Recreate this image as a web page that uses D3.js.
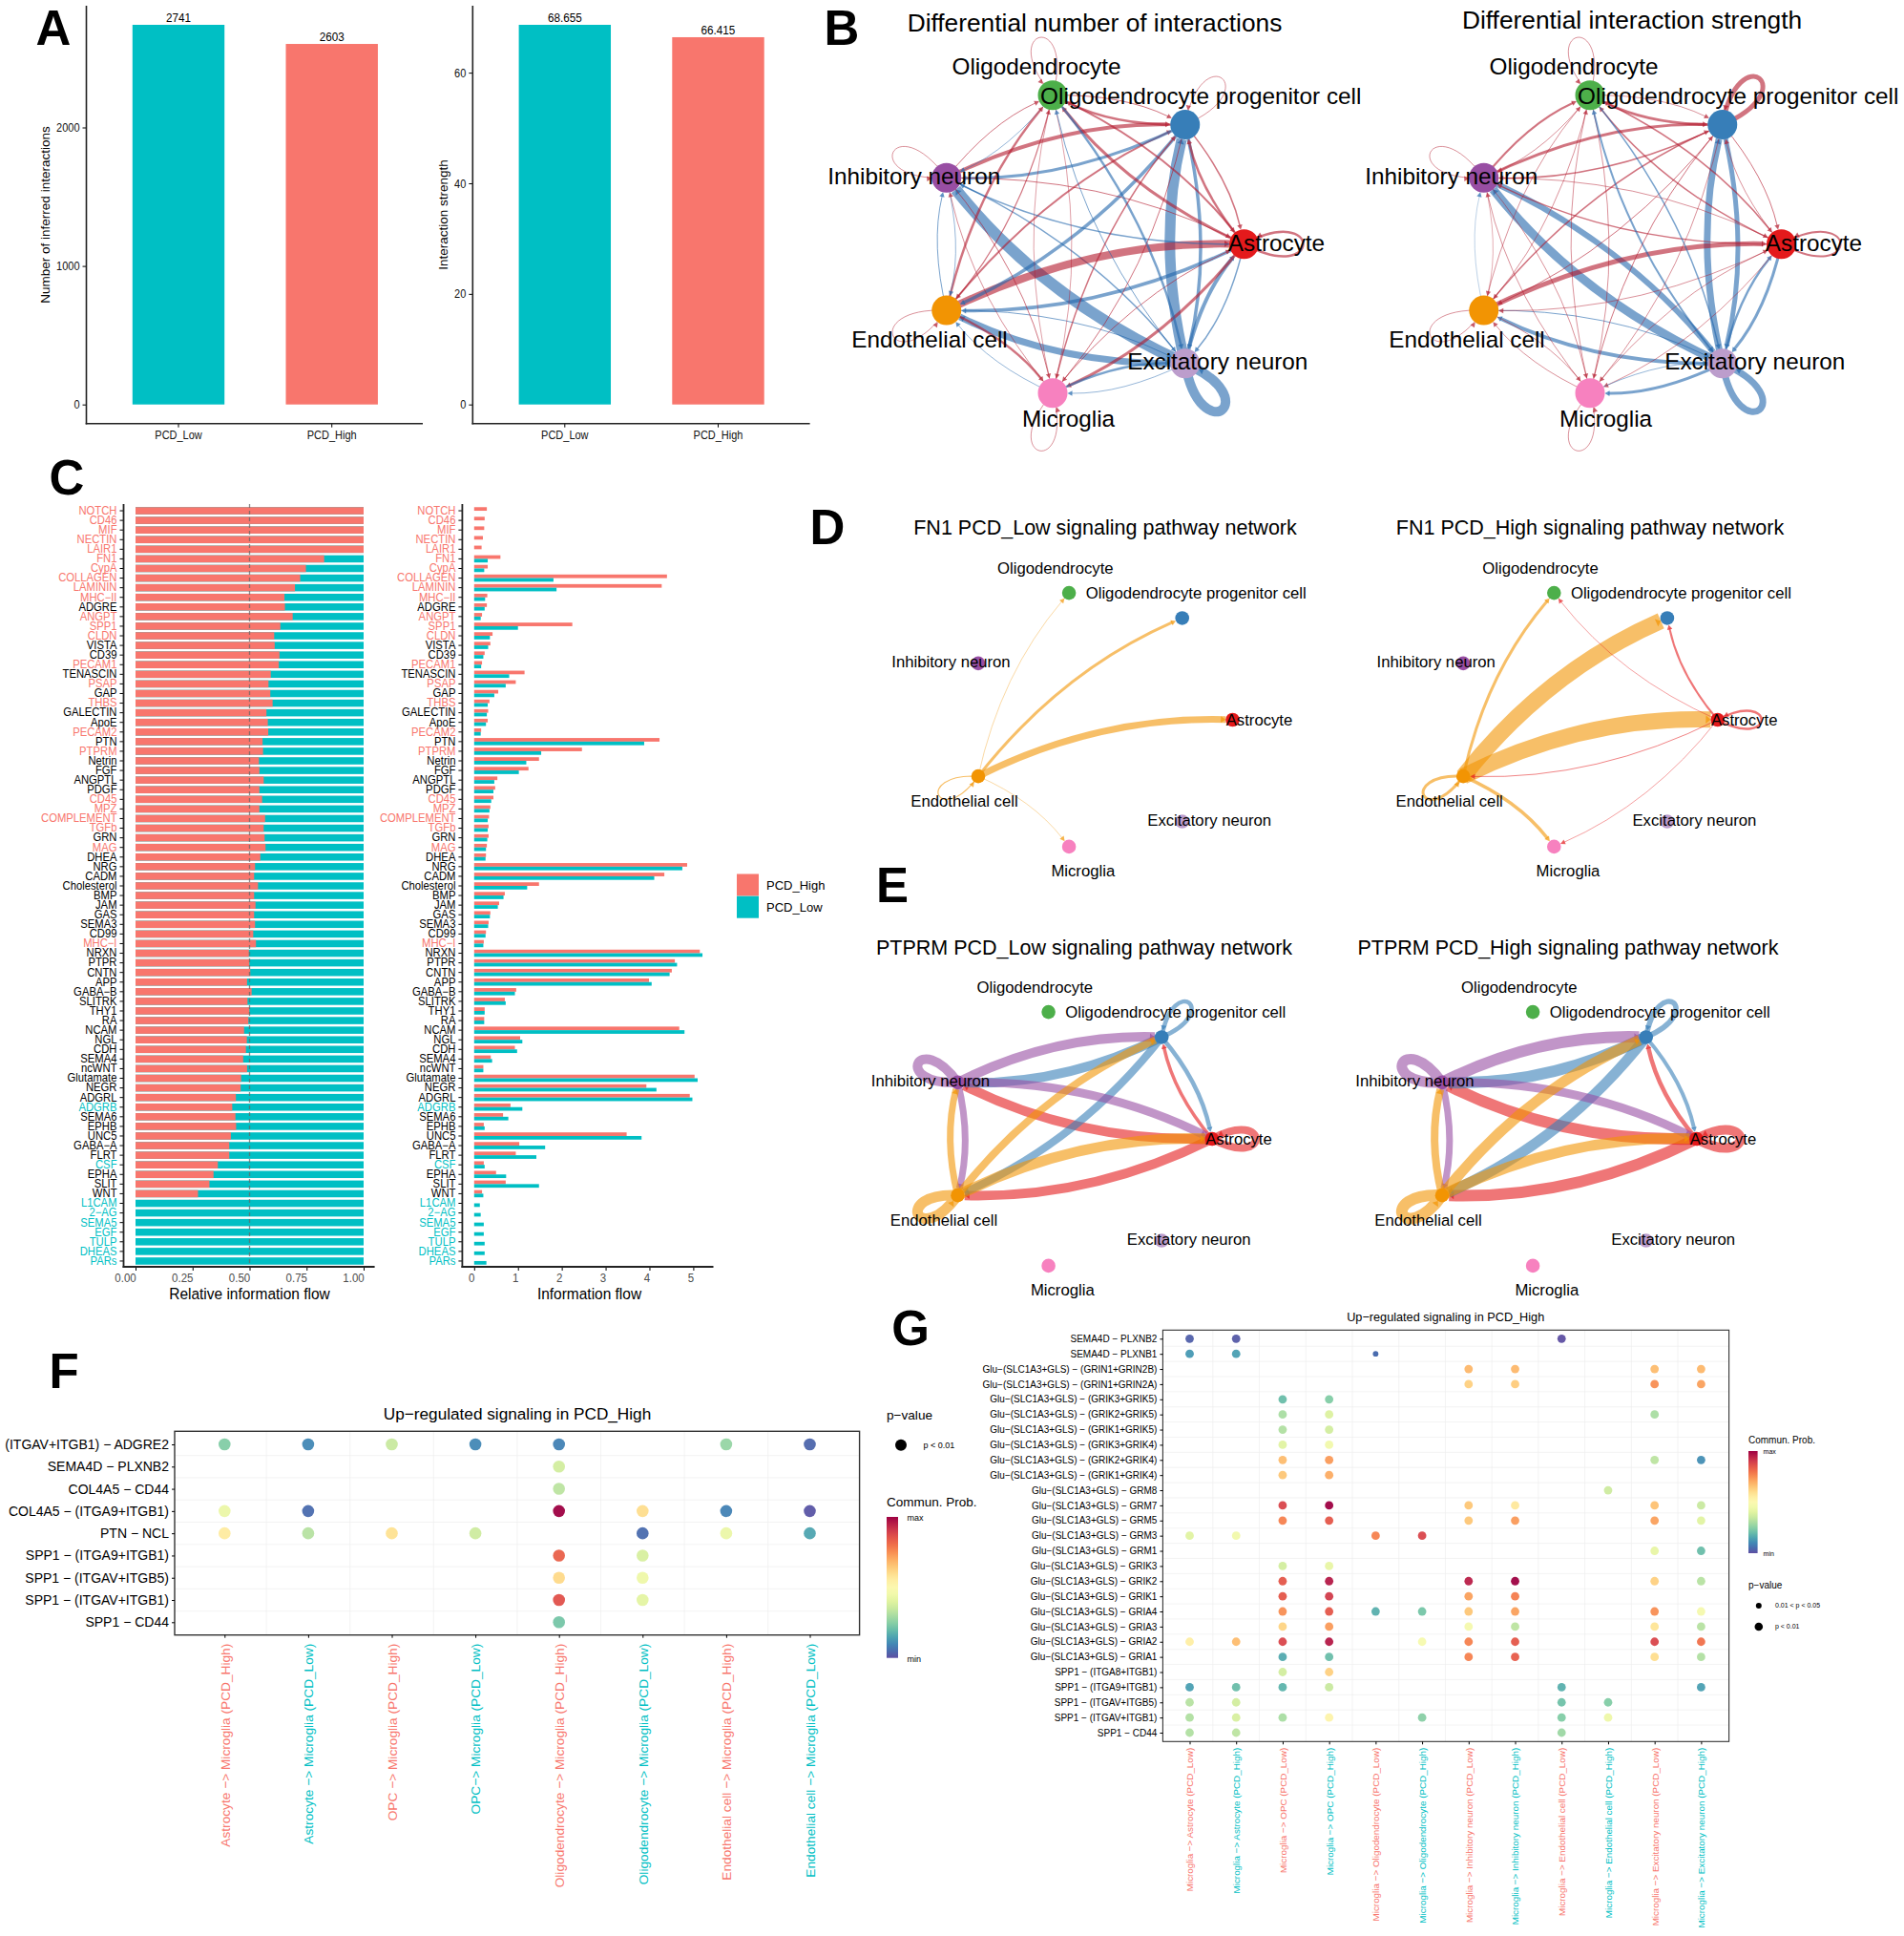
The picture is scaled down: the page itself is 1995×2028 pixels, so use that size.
<!DOCTYPE html>
<html><head><meta charset="utf-8">
<script src="https://cdn.jsdelivr.net/npm/d3@7"></script>
<style>html,body{margin:0;padding:0;background:#fff}svg{display:block}text{font-family:"Liberation Sans",Arial,sans-serif}</style>
</head><body><svg id="c" width="1995" height="2028"></svg>
<script>
const TEAL="#00BFC4", SALMON="#F8766D";
// Panel A
const groups=["PCD_Low","PCD_High"];
const interactionCounts=[2741,2603];
const interactionStrengths=[68.655,66.415];
const countTicks=[0,1000,2000];
const strengthTicks=[0,20,40,60];
// Cell types in circle-layout order
const cellTypes=["Astrocyte","Oligodendrocyte progenitor cell","Oligodendrocyte","Inhibitory neuron","Endothelial cell","Microglia","Excitatory neuron"];
const cellColors=["#E41A1C","#377EB8","#4DAF4A","#984EA3","#F29403","#F781BF","#BC9DCC"];
// Panel B edges: source, target, weight, sign
const diffCountEdges=[[6,1,11,-1],[1,6,3.5,-1],[6,3,12,-1],[3,6,1.5,-1],[6,4,7,-1],[4,6,1,-1],[4,0,8,1],[0,4,3.5,-1],[4,1,2,1],[1,4,3.5,-1],[3,1,4,1],[1,3,3,-1],[2,1,1,1],[1,2,2.5,1],[2,0,2,1],[0,2,3,1],[1,0,1.5,1],[0,1,2.5,1],[6,0,4,-1],[0,6,1.5,-1],[0,5,3,1],[5,0,1,1],[3,0,1,1],[0,3,1.5,-1],[3,2,1,1],[2,3,.8,-1],[4,2,2.5,1],[2,4,1.2,1],[2,5,.7,1],[5,2,.7,1],[2,6,2.5,-1],[6,2,1,-1],[4,3,1,-1],[3,4,.8,-1],[3,5,1,1],[5,3,.8,1],[1,5,1,1],[5,1,1.5,1],[4,5,2.5,1],[5,4,.8,-1],[6,5,.8,-1],[5,6,2.5,-1],[2,2,.8,1],[1,1,.8,1],[0,0,2.5,1],[6,6,10,-1],[5,5,.8,1],[4,4,.8,1],[3,3,.8,1]];
const diffStrengthEdges=[[6,1,7,-1],[1,6,5,-1],[6,3,9,-1],[3,6,6,-1],[6,4,4,-1],[4,6,1,-1],[4,0,5,1],[0,4,.8,1],[4,1,1.5,1],[1,4,1,1],[3,1,3,1],[1,3,1.5,1],[1,2,3,1],[2,1,.8,1],[2,0,1.5,1],[0,2,1.5,1],[1,0,1,1],[0,1,.8,1],[6,0,2.5,-1],[0,6,3,-1],[0,5,.8,1],[5,0,.8,1],[3,0,.8,1],[0,3,1.2,1],[3,2,2,1],[2,3,.8,1],[4,2,.8,1],[2,4,.8,1],[2,5,.8,1],[5,2,.8,1],[2,6,1.5,-1],[6,2,2,-1],[3,4,.6,1],[4,3,.5,-1],[3,5,.8,1],[5,3,.8,1],[1,5,.8,1],[5,1,1,1],[4,5,.8,1],[5,4,.8,1],[6,5,3,-1],[5,6,.8,-1],[2,2,.8,1],[1,1,5,1],[0,0,2,1],[6,6,7,-1],[5,5,.8,1],[4,4,.8,1],[3,3,.8,1]];
// Panel D edges: source, target, weight
const fn1LowEdges=[[4,2,.6],[4,1,3],[4,0,7],[4,5,.6],[4,4,1.2]];
const fn1HighEdges=[[4,2,3],[4,1,17],[4,0,17],[4,5,3.5],[4,4,3],[0,2,.7],[0,1,2],[0,4,.9],[0,5,.7],[0,0,2.5]];
// Panel E edges
const ptprmLowEdges=[[0,1,3.5],[0,3,10],[0,4,10],[0,0,8],[1,0,4.5],[1,3,10],[1,4,8],[1,1,4.5],[3,1,10],[3,0,9],[3,4,7],[3,3,10],[4,3,7],[4,1,8],[4,0,11],[4,4,11]];
const ptprmHighEdges=[[0,1,4.5],[0,3,12],[0,4,12],[0,0,10],[1,0,4],[1,3,12],[1,4,11],[1,1,5.5],[3,1,12],[3,0,9],[3,4,7],[3,3,11],[4,3,8],[4,1,11],[4,0,11],[4,4,12]];
// Panel C
const pathways=["NOTCH","CD46","MIF","NECTIN","LAIR1","FN1","CypA","COLLAGEN","LAMININ","MHC−II","ADGRE","ANGPT","SPP1","CLDN","VISTA","CD39","PECAM1","TENASCIN","PSAP","GAP","THBS","GALECTIN","ApoE","PECAM2","PTN","PTPRM","Netrin","FGF","ANGPTL","PDGF","CD45","MPZ","COMPLEMENT","TGFb","GRN","MAG","DHEA","NRG","CADM","Cholesterol","BMP","JAM","GAS","SEMA3","CD99","MHC−I","NRXN","PTPR","CNTN","APP","GABA−B","SLITRK","THY1","RA","NCAM","NGL","CDH","SEMA4","ncWNT","Glutamate","NEGR","ADGRL","ADGRB","SEMA6","EPHB","UNC5","GABA−A","FLRT","CSF","EPHA","SLIT","WNT","L1CAM","2−AG","SEMA5","EGF","TULP","DHEAS","PARs"];
const highEnriched=["NOTCH","CD46","MIF","NECTIN","LAIR1","FN1","CypA","COLLAGEN","LAMININ","MHC−II","ANGPT","SPP1","CLDN","PECAM1","PSAP","THBS","PECAM2","PTPRM","CD45","MPZ","COMPLEMENT","TGFb","MAG","MHC−I"];
const lowEnriched=["ADGRB","CSF","L1CAM","2−AG","SEMA5","EGF","TULP","DHEAS","PARs"];
const relativeHigh=[1,1,1,1,1,.827,.747,.722,.699,.653,.655,.689,.635,.608,.61,.631,.628,.593,.583,.591,.601,.574,.58,.582,.557,.559,.541,.543,.562,.543,.555,.543,.568,.562,.566,.57,.547,.524,.52,.537,.52,.526,.52,.524,.516,.528,.497,.499,.503,.489,.509,.491,.499,.495,.476,.488,.484,.472,.489,.463,.461,.44,.424,.438,.441,.418,.411,.411,.361,.342,.324,.274,0,0,0,0,0,0,0];
const flowHigh=[.29,.24,.23,.2,.17,.6,.31,4.4,4.28,.3,.29,.18,2.24,.42,.37,.24,.18,1.15,.95,.55,.35,.32,.31,.16,4.23,2.46,1.48,1.24,.53,.48,.44,.37,.34,.33,.33,.29,.27,4.86,4.34,1.48,.7,.57,.37,.33,.27,.22,5.15,4.58,4.51,3.99,.96,.7,.24,.23,4.68,1.05,.93,.38,.21,5.03,3.93,4.92,.83,.66,.22,3.48,1.03,.95,.22,.5,.72,.18,0,0,0,0,0,0,0];
const flowLow=[0,0,0,0,0,.31,.23,1.81,1.88,.25,.24,.15,1,.36,.32,.21,.16,.8,.72,.46,.31,.29,.27,.15,3.88,1.53,1.19,1.02,.46,.44,.39,.35,.31,.31,.3,.27,.26,4.75,4.11,1.21,.67,.54,.36,.32,.26,.21,5.21,4.63,4.46,4.05,.93,.72,.24,.23,4.8,1.1,.98,.41,.21,5.1,4.16,4.98,1.1,.78,.24,3.82,1.62,1.42,.24,.73,1.48,.21,.13,.15,.22,.22,.24,.24,.28];
const relTicks=[0,.25,.5,.75,1];
const flowTicks=[0,1,2,3,4,5];
// Panel F
const fRows=["(ITGAV+ITGB1) − ADGRE2","SEMA4D − PLXNB2","COL4A5 − CD44","COL4A5 − (ITGA9+ITGB1)","PTN − NCL","SPP1 − (ITGA9+ITGB1)","SPP1 − (ITGAV+ITGB5)","SPP1 − (ITGAV+ITGB1)","SPP1 − CD44"];
const fCols=["Astrocyte −> Microglia (PCD_High)","Astrocyte −> Microglia (PCD_Low)","OPC −> Microglia (PCD_High)","OPC−> Microglia (PCD_Low)","Oligodendrocyte −> Microglia (PCD_High)","Oligodendrocyte −> Microglia (PCD_Low)","Endothelial cell −> Microglia (PCD_High)","Endothelial cell −> Microglia (PCD_Low)"];
const fDots=[[0,0,.24],[0,1,.1],[0,2,.35],[0,3,.1],[0,4,.09],[0,6,.27],[0,7,.04],[1,4,.37],[2,4,.33],[3,0,.43],[3,1,.05],[3,4,1],[3,5,.6],[3,6,.09],[3,7,.01],[4,0,.56],[4,1,.32],[4,2,.59],[4,3,.36],[4,5,.05],[4,6,.43],[4,7,.15],[5,4,.83],[5,5,.38],[6,4,.61],[6,5,.44],[7,4,.86],[7,5,.41],[8,4,.22]];
// Panel G
const gRows=["SEMA4D − PLXNB2","SEMA4D − PLXNB1","Glu−(SLC1A3+GLS) − (GRIN1+GRIN2B)","Glu−(SLC1A3+GLS) − (GRIN1+GRIN2A)","Glu−(SLC1A3+GLS) − (GRIK3+GRIK5)","Glu−(SLC1A3+GLS) − (GRIK2+GRIK5)","Glu−(SLC1A3+GLS) − (GRIK1+GRIK5)","Glu−(SLC1A3+GLS) − (GRIK3+GRIK4)","Glu−(SLC1A3+GLS) − (GRIK2+GRIK4)","Glu−(SLC1A3+GLS) − (GRIK1+GRIK4)","Glu−(SLC1A3+GLS) − GRM8","Glu−(SLC1A3+GLS) − GRM7","Glu−(SLC1A3+GLS) − GRM5","Glu−(SLC1A3+GLS) − GRM3","Glu−(SLC1A3+GLS) − GRM1","Glu−(SLC1A3+GLS) − GRIK3","Glu−(SLC1A3+GLS) − GRIK2","Glu−(SLC1A3+GLS) − GRIK1","Glu−(SLC1A3+GLS) − GRIA4","Glu−(SLC1A3+GLS) − GRIA3","Glu−(SLC1A3+GLS) − GRIA2","Glu−(SLC1A3+GLS) − GRIA1","SPP1 − (ITGA8+ITGB1)","SPP1 − (ITGA9+ITGB1)","SPP1 − (ITGAV+ITGB5)","SPP1 − (ITGAV+ITGB1)","SPP1 − CD44"];
const gCols=["Microglia −> Astrocyte (PCD_Low)","Microglia −> Astrocyte (PCD_High)","Microglia −> OPC (PCD_Low)","Microglia −> OPC (PCD_High)","Microglia −> Oligodendrocyte (PCD_Low)","Microglia −> Oligodendrocyte (PCD_High)","Microglia −> Inhibitory neuron (PCD_Low)","Microglia −> Inhibitory neuron (PCD_High)","Microglia −> Endothelial cell (PCD_Low)","Microglia −> Endothelial cell (PCD_High)","Microglia −> Excitatory neuron (PCD_Low)","Microglia −> Excitatory neuron (PCD_High)"];
const gDots=[[0,0,.03],[0,1,.02],[0,8,0],[1,0,.13],[1,1,.14],[2,6,.68],[2,7,.68],[2,10,.67],[2,11,.68],[3,6,.63],[3,7,.64],[3,10,.75],[3,11,.72],[4,2,.2],[4,3,.24],[5,2,.3],[5,3,.39],[5,10,.3],[6,2,.31],[6,3,.37],[7,2,.4],[7,3,.45],[8,2,.67],[8,3,.73],[8,10,.33],[8,11,.11],[9,2,.65],[9,3,.7],[10,9,.36],[11,2,.88],[11,3,1],[11,6,.65],[11,7,.57],[11,10,.66],[11,11,.35],[12,2,.77],[12,3,.85],[12,6,.65],[12,7,.73],[12,10,.72],[12,11,.4],[13,0,.4],[13,1,.45],[13,4,.77],[13,5,.88],[14,10,.42],[14,11,.2],[15,2,.37],[15,3,.42],[16,2,.85],[16,3,.96],[16,6,.95],[16,7,1],[16,10,.63],[16,11,.32],[17,2,.85],[17,3,.9],[17,6,.72],[17,7,.78],[18,2,.75],[18,3,.85],[18,4,.17],[18,5,.22],[18,6,.65],[18,7,.72],[18,10,.75],[18,11,.46],[19,2,.62],[19,3,.73],[19,6,.46],[19,7,.33],[19,10,.58],[19,11,.32],[20,0,.55],[20,1,.67],[20,2,.88],[20,3,.96],[20,5,.47],[20,6,.77],[20,7,.85],[20,10,.88],[20,11,.8],[21,2,.16],[21,3,.2],[21,6,.77],[21,7,.84],[21,10,.6],[21,11,.31],[22,2,.37],[22,3,.63],[23,0,.14],[23,1,.2],[23,2,.18],[23,3,.35],[23,8,.17],[23,11,.14],[24,0,.32],[24,1,.37],[24,8,.21],[24,9,.24],[25,0,.31],[25,1,.38],[25,2,.3],[25,3,.53],[25,5,.25],[25,8,.24],[25,9,.44],[26,0,.31],[26,1,.33],[26,8,.28]];
const gWeakDots=[[1,4,.05]];

const svg=d3.select("#c");
svg.append("rect").attr("width",1995).attr("height",2028).attr("fill","#fff");
function txt(x,y,s,size,o={}){
  let tr=null;
  if(o.rot)tr=`rotate(${o.rot} ${x} ${y})`;
  if(o.sx)tr=`translate(${x} 0) scale(${o.sx},1) translate(${-x} 0)`;
  return svg.append("text").attr("x",x).attr("y",y).attr("dy",o.dy||".35em").attr("font-size",size)
   .attr("text-anchor",o.anchor||"middle").attr("fill",o.fill||"#000").attr("font-weight",o.weight||"normal")
   .attr("transform",tr).text(s);
}
function line(x1,y1,x2,y2,stroke,w,dash){
  return svg.append("line").attr("x1",x1).attr("y1",y1).attr("x2",x2).attr("y2",y2).attr("stroke",stroke).attr("stroke-width",w).attr("stroke-dasharray",dash||null);
}
// Axis labels in the original are slightly condensed.
function condensed(sel,fs,sx,fill,offset){
  sel.attr("font-size",fs).attr("font-family","Liberation Sans").attr("transform",`scale(${sx},1)`);
  if(fill)sel.attr("fill",fill);
  if(offset!==undefined)sel.attr("x",offset/sx);
}
[["A",56,29],["B",882,29],["C",70,500],["D",867,552],["E",935,927],["F",67,1436],["G",954,1391]].forEach(d=>txt(d[1],d[2],d[0],51,{weight:"bold"}));

// ---------- Panel A
function panelA(axisX,axisEnd,bar0,values,ticks,yLabel,labelX,fmt){
  const step=160.7;
  const x=d3.scaleBand().domain(groups).range([bar0-.4*step,bar0-.4*step+2.4*step]).padding(.4);
  const y=d3.scaleLinear().domain([0,values[0]]).range([423.7,26]);
  groups.forEach((g,i)=>{
    svg.append("rect").attr("x",x(g)).attr("width",x.bandwidth()).attr("y",y(values[i])).attr("height",y(0)-y(values[i])).attr("fill",i?SALMON:TEAL);
    txt(x(g)+x.bandwidth()/2,y(values[i])-7.5,fmt(values[i]),13,{sx:.9});
  });
  const gy=svg.append("g").attr("transform",`translate(${axisX},0)`).call(d3.axisLeft(y).tickValues(ticks).tickFormat(d3.format("d")).tickSize(4).tickPadding(3));
  gy.select(".domain").remove();
  condensed(gy.selectAll("text"),12.5,.88,"#111",-7);
  const gx=svg.append("g").attr("transform",`translate(0,443.7)`).call(d3.axisBottom(x).tickSize(4).tickPadding(4));
  gx.select(".domain").remove();
  condensed(gx.selectAll("text"),12.2,.9,"#111");
  line(axisX,6,axisX,444.5,"#222",1.6);
  line(axisX-.8,443.7,axisEnd,443.7,"#222",1.6);
  txt(labelX,225,yLabel,13.5,{rot:-90});
}
panelA(90.5,443,138.8,interactionCounts,countTicks,"Number of inferred interactions",47.7,d3.format("d"));
panelA(495.3,848.6,543.6,interactionStrengths,strengthTicks,"Interaction strength",464.6,d3.format(".3f"));

// ---------- Networks
function network(cfg){
  const g=svg.append("g");
  const sx=d3.scaleLinear().domain([-1,1]).range([cfg.cx-cfg.R,cfg.cx+cfg.R]);
  const sy=d3.scaleLinear().domain([-1,1]).range([cfg.cy+cfg.Ry,cfg.cy-cfg.Ry]);
  const pos=cellTypes.map((c,i)=>{const a=i*2*Math.PI/7;return [sx(Math.cos(a)),sy(Math.sin(a))];});
  const dirs=cellTypes.map((c,i)=>{const a=i*2*Math.PI/7;return [Math.cos(a),-Math.sin(a)];});
  cfg.edges.forEach(e=>{
    const [s,t,w]=e, col=cfg.color(e), [x0,y0]=pos[s], [x1,y1]=pos[t];
    const al=5, ah=2.6+w*.1;
    let ux,uy,tx,ty;
    const p=d3.path();
    if(s===t){
      const [dx,dy]=dirs[s], d=cfg.loopL/.75, h=cfg.loopL*.72, nx=-dy, ny=dx;
      p.moveTo(x0,y0);
      const c2x=x0+d*dx-h*nx, c2y=y0+d*dy-h*ny;
      p.bezierCurveTo(x0+d*dx+h*nx,y0+d*dy+h*ny,c2x,c2y,x0,y0);
      const l=Math.hypot(x0-c2x,y0-c2y); ux=(x0-c2x)/l; uy=(y0-c2y)/l;
      tx=x0-ux*cfg.r; ty=y0-uy*cfg.r;
    } else {
      const dx=x1-x0, dy=y1-y0, len=Math.hypot(dx,dy);
      const cx=(x0+x1)/2+dy/len*cfg.curve*len, cy=(y0+y1)/2-dx/len*cfg.curve*len;
      const l=Math.hypot(x1-cx,y1-cy); ux=(x1-cx)/l; uy=(y1-cy)/l;
      tx=x1-ux*cfg.r; ty=y1-uy*cfg.r;
      const back=w>5?0:al-1;
      p.moveTo(x0,y0); p.quadraticCurveTo(cx,cy,tx-ux*back,ty-uy*back);
    }
    g.append("path").attr("d",p.toString()).attr("fill","none").attr("stroke",col).attr("stroke-opacity",.6).attr("stroke-width",w);
    const a=d3.path(), bx=tx-ux*al, by=ty-uy*al;
    a.moveTo(tx,ty); a.lineTo(bx-uy*ah,by+ux*ah); a.lineTo(bx+uy*ah,by-ux*ah); a.closePath();
    g.append("path").attr("d",a.toString()).attr("fill",col).attr("fill-opacity",.7);
  });
  pos.forEach((p,i)=>g.append("circle").attr("cx",p[0]).attr("cy",p[1]).attr("r",cfg.r).attr("fill",cellColors[i]));
  cellTypes.forEach((c,i)=>txt(pos[i][0]+cfg.off[i][0],pos[i][1]+cfg.off[i][1],c,cfg.fs));
}
const signColor=e=>e[3]>0?"#b2182b":"#2166ac";
const srcColor=e=>cellColors[e[0]];
const bOff=[[34,-1.7],[16.5,-30.6],[-17,-30.7],[-34,-1.3],[-17.7,30],[16.5,27.3],[34,-1.8]];
const dOff=[[28,0],[14.5,-26],[-14.3,-26],[-28.5,-2],[-14.5,26],[14.7,25],[28.5,-1.7]];
const bBase={cy:255.7,R:164,Ry:160,r:15.5,fs:24.3,off:bOff,loopL:62,curve:.12,color:signColor};
network({...bBase,cx:1139.5,edges:diffCountEdges});
network({...bBase,cx:1702.5,edges:diffStrengthEdges});
txt(1147,23.5,"Differential number of interactions",26.3);
txt(1710,20.5,"Differential interaction strength",26.3);
const dBase={R:140.2,Ry:136.3,r:7.3,fs:16.7,off:dOff,loopL:46,curve:.125,color:srcColor};
network({...dBase,cx:1151.3,cy:754,edges:fn1LowEdges});
network({...dBase,cx:1659.5,cy:754,edges:fn1HighEdges});
txt(1158,552.7,"FN1 PCD_Low signaling pathway network",21.5);
txt(1666,552.7,"FN1 PCD_High signaling pathway network",21.5);
network({...dBase,cx:1129.8,cy:1193,edges:ptprmLowEdges});
network({...dBase,cx:1637.3,cy:1193,edges:ptprmHighEdges});
txt(1136,992,"PTPRM PCD_Low signaling pathway network",21.5);
txt(1643,992,"PTPRM PCD_High signaling pathway network",21.5);

// ---------- Panel C
const rowBand=d3.scaleBand().domain(pathways).range([530,1326]).paddingInner(.25).paddingOuter(.125);
function labelColor(n){return highEnriched.includes(n)?SALMON:lowEnriched.includes(n)?TEAL:"#000";}
function cAxes(axisX,axisEnd,xScale,ticks,fmt,labelShift,title,titleX){
  const gy=svg.append("g").attr("transform",`translate(${axisX},0)`).call(d3.axisLeft(rowBand).tickSize(4).tickPadding(3));
  gy.select(".domain").remove();
  condensed(gy.selectAll("text"),12,.94,null,-7);
  gy.selectAll("text").attr("fill",d=>labelColor(d));
  const gx=svg.append("g").attr("transform","translate(0,1327)").call(d3.axisBottom(xScale).tickValues(ticks).tickFormat(fmt).tickSize(4).tickPadding(3));
  gx.select(".domain").remove();
  condensed(gx.selectAll("text"),12.5,.92,"#4d4d4d");
  gx.selectAll("text").attr("dx",labelShift/.92);
  line(axisX,528,axisX,1328,"#222",1.8);
  line(axisX-.9,1327,axisEnd,1327,"#222",1.8);
  txt(titleX,1355,title,17,{sx:.91});
}
const relX=d3.scaleLinear().domain([0,1]).range([142,381]);
pathways.forEach((p,i)=>{
  svg.append("rect").attr("x",relX(0)).attr("y",rowBand(p)).attr("width",relX(1)-relX(0)).attr("height",rowBand.bandwidth()).attr("fill",TEAL);
  if(relativeHigh[i]>0)svg.append("rect").attr("x",relX(0)).attr("y",rowBand(p)).attr("width",relX(relativeHigh[i])-relX(0)).attr("height",rowBand.bandwidth()).attr("fill",SALMON);
});
line(relX(.5),528,relX(.5),1327,"#666",1.3,"4,3").attr("stroke-opacity",.75);
cAxes(129.5,392.6,relX,relTicks,d3.format(".2f"),-11,"Relative information flow",261.5);
const flowX=d3.scaleLinear().domain([0,5]).range([496.8,726.4]);
pathways.forEach((p,i)=>{
  const bw=rowBand.bandwidth()/2;
  if(flowHigh[i]>0)svg.append("rect").attr("x",flowX(0)).attr("y",rowBand(p)).attr("width",flowX(flowHigh[i])-flowX(0)).attr("height",bw).attr("fill",SALMON);
  if(flowLow[i]>0)svg.append("rect").attr("x",flowX(0)).attr("y",rowBand(p)+bw).attr("width",flowX(flowLow[i])-flowX(0)).attr("height",bw).attr("fill",TEAL);
});
cAxes(484.4,747.5,flowX,flowTicks,d3.format("d"),-3,"Information flow",617.5);
[["PCD_High",SALMON,915.5],["PCD_Low",TEAL,938.7]].forEach(d=>{
  svg.append("rect").attr("x",772).attr("y",d[2]).attr("width",23).attr("height",23).attr("fill",d[1]);
  txt(803,d[2]+11.8,d[0],13,{anchor:"start"});
});

// ---------- Dot plots
const spectral=v=>d3.interpolateSpectral(1-v);
function dotPlot(o){
  const x=d3.scalePoint().domain(o.cols).range(o.xRange);
  const y=d3.scalePoint().domain(o.rows).range(o.yRange);
  const sx=x.step(), sy=y.step();
  o.cols.slice(1).forEach(c=>{const m=x(c)-sx/2;line(m,o.box[1],m,o.box[3],"#eeeeee",.7);});
  o.rows.slice(1).forEach(r=>{const m=y(r)-sy/2;line(o.box[0],m,o.box[2],m,"#eeeeee",.7);});
  svg.append("rect").attr("x",o.box[0]).attr("y",o.box[1]).attr("width",o.box[2]-o.box[0]).attr("height",o.box[3]-o.box[1]).attr("fill","none").attr("stroke","#333").attr("stroke-width",o.bw);
  const gy=svg.append("g").attr("transform",`translate(${o.box[0]},0)`).call(d3.axisLeft(y).tickSize(3).tickPadding(3));
  gy.select(".domain").remove();
  gy.selectAll("text").attr("font-size",o.yFs).attr("font-family","Liberation Sans").attr("fill","#000");
  const gx=svg.append("g").attr("transform",`translate(0,${o.box[3]})`).call(d3.axisBottom(x).tickSize(3));
  gx.select(".domain").remove();
  gx.selectAll("text").attr("font-size",o.xFs).attr("font-family","Liberation Sans").attr("transform","rotate(-90)").attr("text-anchor","end")
    .attr("x",-o.xOff).attr("y",0).attr("dy",".35em").attr("fill",d=>d.includes(o.salmonKey)?SALMON:TEAL);
  o.dots.forEach(d=>svg.append("circle").attr("cx",x(o.cols[d[1]])).attr("cy",y(o.rows[d[0]])).attr("r",o.r).attr("fill",spectral(d[2])).attr("fill-opacity",.95));
  (o.weak||[]).forEach(d=>svg.append("circle").attr("cx",x(o.cols[d[1]])).attr("cy",y(o.rows[d[0]])).attr("r",o.r*.66).attr("fill",spectral(d[2])));
}
dotPlot({rows:fRows,cols:fCols,xRange:[235.3,848.5],yRange:[1513,1699.3],box:[183,1499.3,900.6,1712.7],bw:1.4,yFs:14,xFs:13.7,xOff:9,salmonKey:"High",dots:fDots,r:6.3});
txt(542,1480.7,"Up−regulated signaling in PCD_High",17.2);
dotPlot({rows:gRows,cols:gCols,xRange:[1246.5,1782.4],yRange:[1402.3,1815],box:[1218.4,1393.3,1811.6,1824.3],bw:1.1,yFs:10,xFs:9.85,xOff:6.5,salmonKey:"Low",dots:gDots,weak:gWeakDots,r:4.4});
txt(1514.7,1380,"Up−regulated signaling in PCD_High",12.7);

// ---------- Colour bars and legends
const defs=svg.append("defs");
const grad=defs.append("linearGradient").attr("id","spec").attr("x1",0).attr("x2",0).attr("y1",0).attr("y2",1);
d3.range(0,1.001,.05).forEach(t=>grad.append("stop").attr("offset",t).attr("stop-color",d3.interpolateSpectral(t)));
function colorBar(x,y0,w,y1,fsLab,lx){
  svg.append("rect").attr("x",x).attr("y",y0).attr("width",w).attr("height",y1-y0).attr("fill","url(#spec)");
  txt(lx,y0+1,"max",fsLab,{anchor:"start"});
  txt(lx,y1+1,"min",fsLab,{anchor:"start"});
}
txt(929,1482,"p−value",13.6,{anchor:"start"});
svg.append("circle").attr("cx",944).attr("cy",1513.7).attr("r",6).attr("fill","#000");
txt(967.5,1513.7,"p < 0.01",9,{anchor:"start"});
txt(929,1573,"Commun. Prob.",13.5,{anchor:"start"});
colorBar(929,1589,12,1736.7,9,950.6);
txt(1832,1508.7,"Commun. Prob.",10,{anchor:"start"});
colorBar(1832,1520,9.6,1627,7,1847.6);
txt(1832,1660,"p−value",10,{anchor:"start"});
svg.append("circle").attr("cx",1842.8).attr("cy",1682).attr("r",3).attr("fill","#000");
txt(1860,1682,"0.01 < p < 0.05",7,{anchor:"start"});
svg.append("circle").attr("cx",1842.8).attr("cy",1704).attr("r",4.3).attr("fill","#000");
txt(1860,1704,"p < 0.01",7,{anchor:"start"});
</script></body></html>
